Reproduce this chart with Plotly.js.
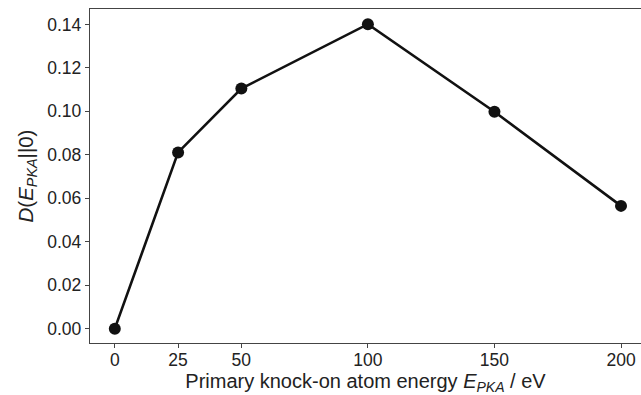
<!DOCTYPE html>
<html>
<head>
<meta charset="utf-8">
<script src="https://cdn.plot.ly/plotly-3.0.1.min.js"></script>
<style>html,body{margin:0;padding:0;background:#fff;}#chart{width:641px;height:395px;}</style>
</head>
<body>
<div id="chart"></div>
<script>
const energies = [0, 25, 50, 100, 150, 200];
const divergence = [0.0, 0.0811, 0.1105, 0.1401, 0.0998, 0.0565];
const xTickVals = [0, 25, 50, 100, 150, 200];
const xTickText = ["0", "25", "50", "100", "150", "200"];

const trace = {
  x: energies,
  y: divergence,
  type: "scatter",
  mode: "lines+markers",
  line: {color: "#111111", width: 2.6},
  marker: {color: "#111111", size: 12},
  hoverinfo: "x+y"
};

const fontFam = "Liberation Sans, Arial, sans-serif";
const layout = {
  width: 641,
  height: 395,
  margin: {l: 90, r: 0, t: 8.5, b: 52},
  paper_bgcolor: "#ffffff",
  plot_bgcolor: "#ffffff",
  showlegend: false,
  font: {family: fontFam, size: 17.5, color: "#222222"},
  xaxis: {
    range: [-9.8, 207.9],
    tickvals: xTickVals,
    ticktext: xTickText,
    ticks: "outside",
    ticklen: 4,
    tickwidth: 1,
    tickcolor: "#444444",
    ticklabelstandoff: -3,
    showline: true,
    linecolor: "#444444",
    linewidth: 1.2,
    mirror: true,
    showgrid: false,
    zeroline: false,
    tickfont: {family: fontFam, size: 17.5, color: "#222222"},
    title: {
      text: "Primary knock-on atom energy <i>E</i><sub><i>PKA</i></sub> / eV",
      font: {family: fontFam, size: 20, color: "#222222"},
      standoff: 5
    }
  },
  yaxis: {
    range: [-0.0066, 0.1471],
    dtick: 0.02,
    tick0: 0,
    tickformat: ".2f",
    ticks: "outside",
    ticklen: 4,
    tickwidth: 1,
    tickcolor: "#444444",
    showline: true,
    linecolor: "#444444",
    linewidth: 1.2,
    mirror: false,
    showgrid: false,
    zeroline: false,
    tickfont: {family: fontFam, size: 17.5, color: "#222222"},
    title: {
      text: "<i>D</i>(<i>E</i><sub><i>PKA</i></sub>||0)",
      font: {family: fontFam, size: 20.5, color: "#222222"},
      standoff: 8
    }
  }
};

Plotly.newPlot("chart", [trace], layout, {displayModeBar: false, staticPlot: true});
</script>
</body>
</html>
